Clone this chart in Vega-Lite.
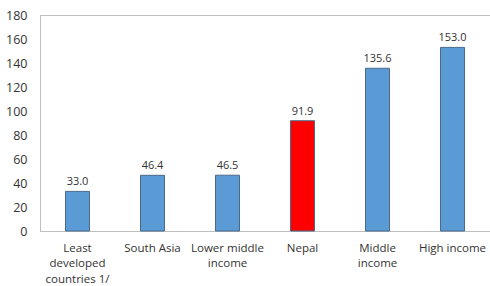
{
  "$schema": "https://vega.github.io/schema/vega-lite/v6.json",
  "autosize": "none",
  "width": 450,
  "height": 216,
  "padding": {"left": 40, "top": 15, "right": 0, "bottom": 55},
  "background": "white",
  "config": {
    "view": {"stroke": "#BFBFBF", "strokeWidth": 1},
    "font": "Open Sans"
  },
  "data": {
    "values": [
      {"group": "Least developed countries 1/", "value": 33.0, "highlight": "other"},
      {"group": "South Asia", "value": 46.4, "highlight": "other"},
      {"group": "Lower middle income", "value": 46.5, "highlight": "other"},
      {"group": "Nepal", "value": 91.9, "highlight": "Nepal"},
      {"group": "Middle income", "value": 135.6, "highlight": "other"},
      {"group": "High income", "value": 153.0, "highlight": "other"}
    ]
  },
  "encoding": {
    "x": {
      "field": "group", "type": "nominal", "sort": null,
      "scale": {"paddingInner": 0.68, "paddingOuter": 0.34},
      "axis": {
        "title": null, "labelAngle": 0, "ticks": false,
        "domainColor": "#BFBFBF", "labelColor": "#333333",
        "labelFont": "Open Sans", "labelFontSize": 11.5, "labelPadding": 11,
        "labelLineHeight": 15.5, "labelBaseline": "top",
        "labelExpr": "datum.value == 'Least developed countries 1/' ? ['Least', 'developed', 'countries 1/'] : datum.value == 'Lower middle income' ? ['Lower middle', 'income'] : datum.value == 'Middle income' ? ['Middle', 'income'] : datum.value"
      }
    },
    "y": {
      "field": "value", "type": "quantitative",
      "scale": {"domain": [0, 180]},
      "axis": {
        "title": null, "values": [0, 20, 40, 60, 80, 100, 120, 140, 160, 180],
        "grid": false, "ticks": false, "domainColor": "#BFBFBF",
        "labelColor": "#333333", "labelFont": "Open Sans", "labelFontSize": 12.5,
        "labelPadding": 13
      }
    }
  },
  "layer": [
    {
      "mark": {"type": "bar", "stroke": "#4A6A8A", "strokeWidth": 1},
      "encoding": {
        "color": {
          "field": "highlight", "type": "nominal",
          "scale": {"domain": ["other", "Nepal"], "range": ["#5B9BD5", "#FF0000"]},
          "legend": null
        }
      }
    },
    {
      "mark": {"type": "text", "dy": -9, "fontSize": 11, "color": "#333333", "font": "Open Sans"},
      "encoding": {
        "text": {"field": "value", "type": "quantitative", "format": ".1f"}
      }
    }
  ]
}
